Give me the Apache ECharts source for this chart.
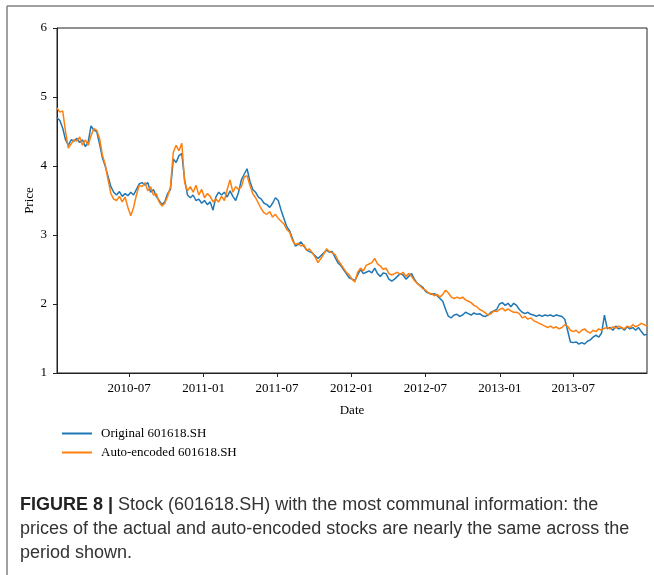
<!DOCTYPE html>
<html>
<head>
<meta charset="utf-8">
<style>
  html, body { margin: 0; padding: 0; background: #fff; }
  #chart { width: 654px; height: 575px; }
</style>
<script src="https://cdn.jsdelivr.net/npm/echarts@6/dist/echarts.min.js"></script>
</head>
<body>
<div id="chart"></div>
<script>
// Weekly closing prices of 601618.SH, starting Monday 2010-01-04
const firstWeek = [2010, 0, 4];

const original = [
  4.70, 4.66, 4.55, 4.38, 4.30, 4.38, 4.36, 4.40, 4.34, 4.38,
  4.28, 4.35, 4.58, 4.52, 4.50, 4.32, 4.12, 4.00, 3.85, 3.70,
  3.62, 3.58, 3.63, 3.56, 3.60, 3.57, 3.62, 3.58, 3.66, 3.74,
  3.76, 3.72, 3.76, 3.62, 3.66, 3.56, 3.50, 3.44, 3.48, 3.60,
  3.66, 4.10, 4.05, 4.15, 4.18, 3.80, 3.58, 3.54, 3.58, 3.50,
  3.52, 3.46, 3.50, 3.44, 3.48, 3.36, 3.55, 3.62, 3.58, 3.62,
  3.55, 3.64, 3.56, 3.50, 3.62, 3.80, 3.88, 3.96, 3.78, 3.66,
  3.62, 3.55, 3.52, 3.46, 3.44, 3.40, 3.46, 3.54, 3.50, 3.36,
  3.24, 3.12, 3.06, 2.95, 2.84, 2.86, 2.90, 2.84, 2.78, 2.76,
  2.74, 2.70, 2.66, 2.70, 2.74, 2.78, 2.75, 2.76, 2.68, 2.60,
  2.56, 2.50, 2.44, 2.38, 2.36, 2.34, 2.42, 2.50, 2.44, 2.46,
  2.48, 2.45, 2.52, 2.44, 2.40, 2.45, 2.44, 2.36, 2.33, 2.36,
  2.40, 2.44, 2.42, 2.36, 2.40, 2.44, 2.36, 2.30, 2.27, 2.24,
  2.18, 2.16, 2.14, 2.15, 2.12, 2.08, 2.04, 1.92, 1.82, 1.80,
  1.84, 1.85, 1.82, 1.84, 1.88, 1.86, 1.84, 1.87, 1.85, 1.86,
  1.83, 1.82, 1.84, 1.88, 1.90, 1.92, 2.00, 2.02, 1.98, 2.01,
  1.96, 2.01, 1.98, 1.92, 1.88, 1.86, 1.88, 1.85, 1.84, 1.82,
  1.84, 1.82, 1.84, 1.83, 1.84, 1.82, 1.84, 1.83, 1.82, 1.78,
  1.62, 1.45, 1.44, 1.45, 1.42, 1.44, 1.42, 1.46, 1.48, 1.52,
  1.55, 1.52, 1.58, 1.84, 1.64, 1.66, 1.62, 1.68, 1.64, 1.66,
  1.62, 1.67, 1.64, 1.66, 1.62, 1.66, 1.60, 1.55, 1.56
];

const autoEncoded = [
  4.84, 4.78, 4.80, 4.50, 4.26, 4.32, 4.38, 4.36, 4.42, 4.30,
  4.38, 4.30, 4.44, 4.54, 4.52, 4.40, 4.16, 4.02, 3.80, 3.60,
  3.52, 3.50, 3.56, 3.48, 3.55, 3.40, 3.28, 3.40, 3.58, 3.72,
  3.70, 3.76, 3.64, 3.70, 3.58, 3.60, 3.48, 3.42, 3.46, 3.56,
  3.70, 4.20, 4.30, 4.22, 4.33, 3.76, 3.64, 3.70, 3.62, 3.72,
  3.58, 3.66, 3.54, 3.60, 3.56, 3.48, 3.52, 3.48, 3.56, 3.50,
  3.66, 3.80, 3.62, 3.70, 3.66, 3.70, 3.84, 3.86, 3.72, 3.60,
  3.54, 3.46, 3.38, 3.32, 3.30, 3.34, 3.26, 3.30, 3.24, 3.20,
  3.16, 3.08, 3.04, 2.92, 2.86, 2.88, 2.84, 2.86, 2.78, 2.80,
  2.74, 2.68, 2.60, 2.66, 2.72, 2.80, 2.76, 2.74, 2.72, 2.64,
  2.58, 2.52, 2.46, 2.42, 2.36, 2.32, 2.46, 2.52, 2.48, 2.56,
  2.58, 2.60, 2.66, 2.58, 2.55, 2.50, 2.52, 2.44, 2.42, 2.44,
  2.46, 2.43, 2.46, 2.40, 2.44, 2.40, 2.34, 2.30, 2.26, 2.22,
  2.20, 2.16, 2.15, 2.12, 2.14, 2.10, 2.14, 2.20, 2.16, 2.10,
  2.08, 2.10, 2.08, 2.10, 2.06, 2.04, 2.02, 1.98, 1.96, 1.92,
  1.90, 1.87, 1.84, 1.86, 1.90, 1.89, 1.92, 1.94, 1.90, 1.93,
  1.90, 1.88, 1.88, 1.86, 1.80, 1.82, 1.78, 1.80, 1.76, 1.74,
  1.72, 1.70, 1.68, 1.66, 1.68, 1.65, 1.67, 1.64, 1.66, 1.70,
  1.68, 1.62, 1.60, 1.62, 1.58, 1.62, 1.64, 1.60, 1.58, 1.62,
  1.60, 1.64, 1.62, 1.65, 1.66, 1.64, 1.67, 1.65, 1.68, 1.66,
  1.64, 1.68, 1.66, 1.70, 1.67, 1.69, 1.72, 1.70, 1.68
];

const dateTicks = ['2010-07-01', '2011-01-01', '2011-07-01', '2012-01-01',
                   '2012-07-01', '2013-01-01', '2013-07-01'];
const priceTicks = [1, 2, 3, 4, 5, 6];

const seriesNames = ['Original 601618.SH', 'Auto-encoded 601618.SH'];
const captionLines = [
  'Stock (601618.SH) with the most communal information: the',
  'prices of the actual and auto-encoded stocks are nearly the same across the',
  'period shown.'
];

function weekDate(i) {
  return new Date(firstWeek[0], firstWeek[1], firstWeek[2] + 7 * i).getTime();
}
function toPairs(values) {
  return values.map((v, i) => [weekDate(i), v]);
}
function parseDay(s) {
  const p = s.split('-').map(Number);
  return new Date(p[0], p[1] - 1, p[2]).getTime();
}
function monthLabel(t) {
  const d = new Date(t);
  const m = d.getMonth() + 1;
  return d.getFullYear() + '-' + (m < 10 ? '0' + m : m);
}

const tickTimes = dateTicks.map(parseDay);
const serif = 'Liberation Serif';

const chart = echarts.init(document.getElementById('chart'), null, { renderer: 'canvas' });
chart.setOption({
  backgroundColor: '#fff',
  animation: false,
  grid: {
    left: 57, right: 7, top: 28, bottom: 202,
    show: true, borderColor: '#222', borderWidth: 1
  },
  xAxis: {
    type: 'value',
    min: weekDate(0),
    max: weekDate(original.length - 1),
    name: 'Date',
    nameLocation: 'middle',
    nameGap: 31,
    nameTextStyle: { fontFamily: serif, fontSize: 13, color: '#000' },
    axisLine: { show: true, onZero: false, lineStyle: { color: '#222', width: 1 } },
    axisTick: { show: true, length: 4, lineStyle: { color: '#222' }, customValues: tickTimes },
    axisLabel: {
      show: true, customValues: tickTimes, margin: 9,
      fontFamily: serif, fontSize: 13, color: '#000',
      formatter: monthLabel
    },
    splitLine: { show: false }
  },
  yAxis: {
    type: 'value',
    min: priceTicks[0],
    max: priceTicks[priceTicks.length - 1],
    interval: 1,
    name: 'Price',
    nameLocation: 'middle',
    nameGap: 21,
    nameMoveOverlap: false,
    nameTextStyle: { fontFamily: serif, fontSize: 13, color: '#000' },
    axisLine: { show: true, lineStyle: { color: '#222', width: 1 } },
    axisTick: { show: true, length: 4, lineStyle: { color: '#222' } },
    axisLabel: { fontFamily: serif, fontSize: 13, color: '#000', margin: 10 },
    splitLine: { show: false }
  },
  legend: {
    orient: 'vertical',
    left: 57, top: 422,
    itemWidth: 30, itemHeight: 2, itemGap: 6,
    icon: 'rect',
    textStyle: { fontFamily: serif, fontSize: 13, color: '#000', padding: [0, 0, 0, 4] },
    data: seriesNames
  },
  series: [
    {
      name: seriesNames[0], type: 'line', showSymbol: false,
      data: toPairs(original),
      lineStyle: { color: '#1f77b4', width: 1.5 },
      itemStyle: { color: '#1f77b4' }, z: 2
    },
    {
      name: seriesNames[1], type: 'line', showSymbol: false,
      data: toPairs(autoEncoded),
      lineStyle: { color: '#ff7f0e', width: 1.5 },
      itemStyle: { color: '#ff7f0e' }, z: 3
    }
  ],
  graphic: [
    // figure frame along the top and left edges
    { type: 'line', shape: { x1: 7, y1: 6, x2: 654, y2: 6 }, style: { stroke: '#808080', lineWidth: 1.5 } },
    { type: 'line', shape: { x1: 7, y1: 6, x2: 7, y2: 575 }, style: { stroke: '#808080', lineWidth: 1.5 } },
    {
      type: 'text', left: 20, top: 493,
      style: {
        text: '{b|FIGURE 8 |} ' + captionLines[0] + '\n' + captionLines[1] + '\n' + captionLines[2],
        fontFamily: 'Liberation Sans', fontSize: 18, lineHeight: 24, fill: '#333',
        rich: { b: { fontFamily: 'Liberation Sans', fontWeight: 'bold', fontSize: 18, fill: '#222' } }
      }
    }
  ]
});
</script>
</body>
</html>
